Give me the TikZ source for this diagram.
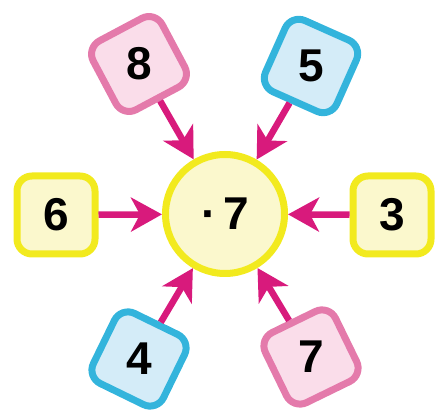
\documentclass[tikz,border=0pt]{standalone}
\usepackage{fontspec}
\setmainfont{Liberation Sans}
\usetikzlibrary{arrows.meta}
\definecolor{pinkLine}{HTML}{E47AAB}
\definecolor{pinkFill}{HTML}{FADDEA}
\definecolor{blueLine}{HTML}{33B4DC}
\definecolor{blueFill}{HTML}{D4ECF8}
\definecolor{yellowLine}{HTML}{F2EA1E}
\definecolor{yellowFill}{HTML}{FBF8CD}
\definecolor{arrowColor}{HTML}{D81A7C}

\begin{document}
\begin{tikzpicture}[x=1pt, y=1pt,
		box/.style={line width=7pt, rounded corners=15pt, minimum size=78pt, inner sep=0pt},
		pinkbox/.style={box, draw=pinkLine, fill=pinkFill},
		bluebox/.style={box, draw=blueLine, fill=blueFill},
		yellowbox/.style={box, draw=yellowLine, fill=yellowFill},
		num/.style={font=\fontsize{46}{50}\selectfont\bfseries, inner sep=0pt},
		circ/.style={circle, draw=yellowLine, fill=yellowFill, line width=7pt, minimum size=119pt, inner sep=0pt},
		arr/.style={draw=arrowColor, line width=6.5pt, -{Stealth[length=31pt, width=34pt, inset=9pt]}}
		]
		\useasboundingbox (0,0) rectangle (435,414);

		\node[circ, num] (c) at (225,200) {·\hspace{7pt}7};

		\node[yellowbox, num] (b6) at (56,199) {6};
		\node[yellowbox, num] (b3) at (392,199) {3};

		\node[pinkbox, rotate=28] (b8) at (139,350) {};
		\node[num] (t8) at (b8) {8};

		\node[bluebox, rotate=-24] (b5) at (311,348) {};
		\node[num] (t5) at (b5) {5};

		\node[bluebox, rotate=-26] (b4) at (139,55) {};
		\node[num] (t4) at (b4) {4};

		\node[pinkbox, rotate=26] (b7) at (311,57) {};
		\node[num] (t7) at (b7) {7};

		\draw[arr] (b6) -- (c);
		\draw[arr] (b3) -- (c);
		\draw[arr] (b8) -- (c);
		\draw[arr] (b5) -- (c);
		\draw[arr] (b4) -- (c);
		\draw[arr] (b7) -- (c);
	\end{tikzpicture}
\end{document}
